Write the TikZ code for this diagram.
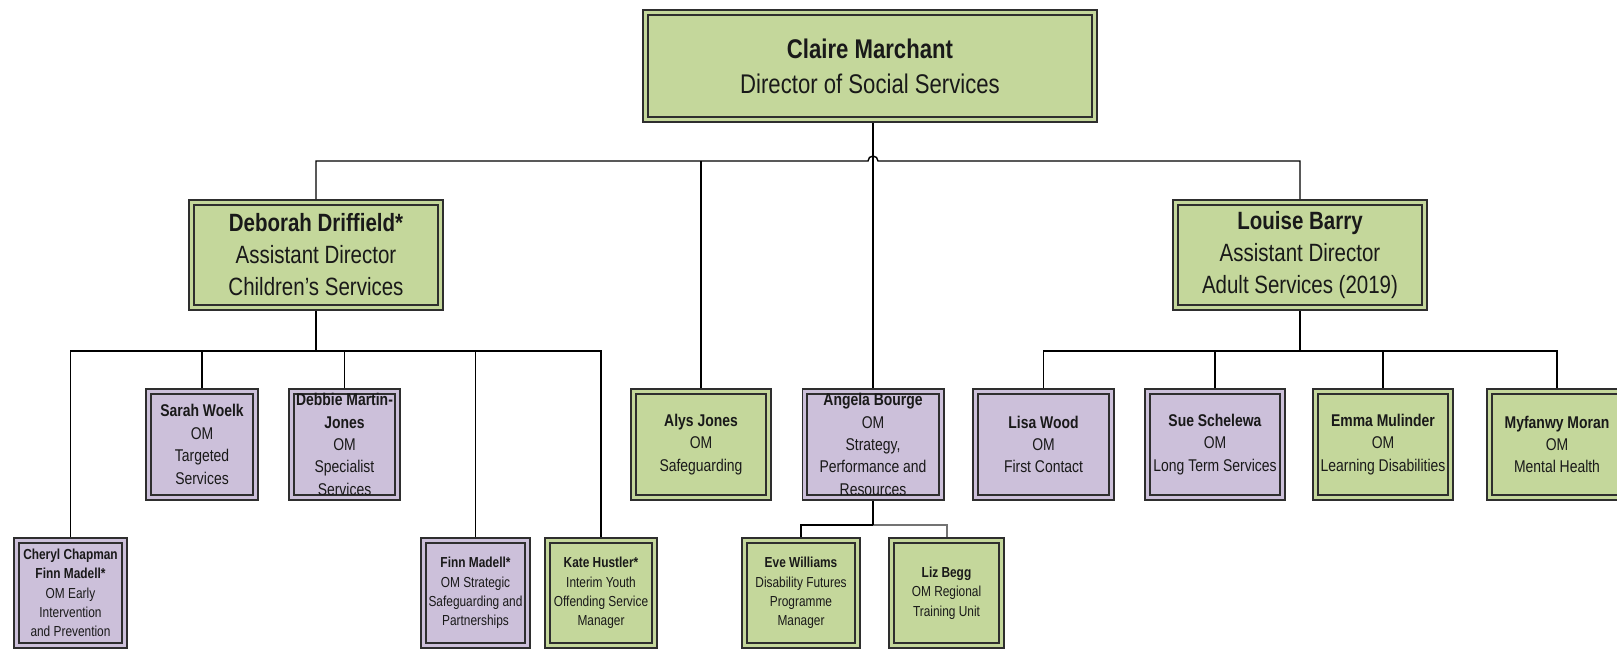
\documentclass[tikz,border=0pt]{standalone}
\usepackage{fontspec}
\setmainfont{Liberation Sans}[FakeStretch=0.82]
\definecolor{bxgreen}{HTML}{C4D79B}
\definecolor{bxpurple}{HTML}{CCC0DA}
\definecolor{bxline}{HTML}{2E2E2E}
\tikzset{
 box/.style={rectangle, draw=bxline, line width=1.8pt, double distance=3pt, inner sep=0pt, outer sep=3.3pt},
 gbox/.style={box, fill=bxgreen, double=bxgreen},
 pbox/.style={box, fill=bxpurple, double=bxpurple},
 txt/.style={align=center, inner sep=0pt, text=black!90},
 ftop/.style={font=\fontsize{27}{35}\selectfont},
 fad/.style={font=\fontsize{25}{32}\selectfont},
 fom/.style={font=\fontsize{17}{22.4}\selectfont},
 fsm/.style={font=\fontsize{14.5}{19.3}\selectfont},
 conn/.style={line width=1.4pt, black}
}
\newcommand{\orgbox}[8]{%
 \node[#6, minimum width={(#4-6.6)*1pt}, minimum height={(#5-6.6)*1pt}] (#1) at (#2,#3) {};
 \node[txt,#7] (#1-t) at (#1.center) {#8};}
\begin{document}
\begin{tikzpicture}[x=1pt,y=-1pt]
\useasboundingbox (0,0) rectangle (1617,651);
\clip (0,0) rectangle (1617,651);
% top
\orgbox{claire}{870}{66}{456}{114}{gbox}{ftop}{\textbf{Claire Marchant}\\Director of Social Services}
\orgbox{deborah}{316}{255}{256}{112}{gbox}{fad}{\textbf{Deborah Driffield*}\\Assistant Director\\Children’s Services}
\orgbox{louise}{1300}{255}{256}{112}{gbox}{fad}{\textbf{Louise Barry}\\Assistant Director\\Adult Services (2019)}
% middle row
\orgbox{sarah}{202}{444.5}{114}{113}{pbox}{fom}{\textbf{Sarah Woelk}\\OM\\Targeted\\Services}
\orgbox{debbie}{344.5}{444.5}{113}{113}{pbox}{fom}{\textbf{Debbie Martin-}\\\textbf{Jones}\\OM\\Specialist\\Services}
\orgbox{alys}{701}{444.5}{142}{113}{gbox}{fom}{\textbf{Alys Jones}\\OM\\Safeguarding}
\orgbox{angela}{873}{444.5}{143}{113}{pbox}{fom}{\textbf{Angela Bourge}\\OM\\Strategy,\\Performance and\\Resources}
\orgbox{lisa}{1043.5}{444.5}{143}{113}{pbox}{fom}{\textbf{Lisa Wood}\\OM\\First Contact}
\orgbox{sue}{1215}{444.5}{142}{113}{pbox}{fom}{\textbf{Sue Schelewa}\\OM\\Long Term Services}
\orgbox{emma}{1383}{444.5}{142}{113}{gbox}{fom}{\textbf{Emma Mulinder}\\OM\\Learning Disabilities}
\orgbox{myfanwy}{1557}{444.5}{142}{113}{gbox}{fom}{\textbf{Myfanwy Moran}\\OM\\Mental Health}
% bottom row
\orgbox{cheryl}{70.5}{593}{115}{112}{pbox}{fsm}{\textbf{Cheryl Chapman}\\\textbf{Finn Madell*}\\OM Early\\Intervention\\and Prevention}
\orgbox{finn}{475.5}{593}{111}{112}{pbox}{fsm}{\textbf{Finn Madell*}\\OM Strategic\\Safeguarding and\\Partnerships}
\orgbox{kate}{601}{593}{114}{112}{gbox}{fsm}{\textbf{Kate Hustler*}\\Interim Youth\\Offending Service\\Manager}
\orgbox{eve}{801}{593}{120}{112}{gbox}{fsm}{\textbf{Eve Williams}\\Disability Futures\\Programme\\Manager}
\orgbox{liz}{946.5}{593}{117}{112}{gbox}{fsm}{\textbf{Liz Begg}\\OM Regional\\Training Unit}
% bus coordinates
\coordinate (hop) at (873,161);
\coordinate (dbus) at (316,351);
\coordinate (lbus) at (1300,351);
\coordinate (abus) at (873,525);
% top level connectors
\draw[conn] (claire.south -| angela.north) -- (angela.north);
\draw[conn] (deborah.north) |- ([xshift=-5pt]hop) arc[start angle=180, end angle=0, radius=5pt] -| (louise.north);
\draw[conn] (alys.north) -- (alys.north |- hop);
% children's services
\draw[conn] (deborah.south) -- (dbus);
\draw[conn] (cheryl.north) |- (kate.north |- dbus) -- (kate.north);
\foreach \n in {sarah,debbie,finn}{\draw[conn] (\n.north) -- (\n.north |- dbus);}
% adult services
\draw[conn] (louise.south) -- (lbus);
\draw[conn] (lisa.north) |- (myfanwy.north |- lbus) -- (myfanwy.north);
\foreach \n in {sue,emma}{\draw[conn] (\n.north) -- (\n.north |- lbus);}
% strategy
\draw[conn, black!55, line width=2pt] (abus) -| (liz.north);
\draw[conn, line width=2pt] (eve.north) |- (abus);
\draw[conn] (angela.south) -- (abus);
\end{tikzpicture}
\end{document}
